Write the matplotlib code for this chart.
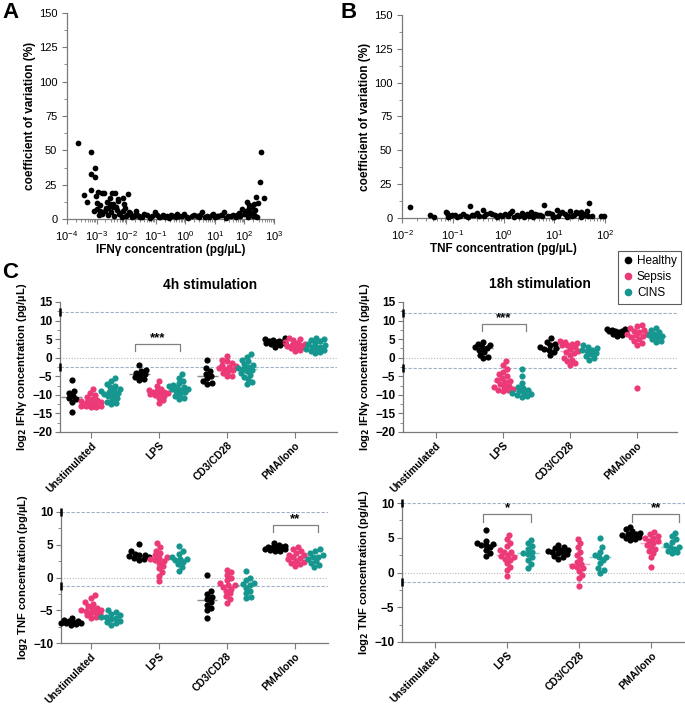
import matplotlib
matplotlib.use('Agg')
import matplotlib.pyplot as plt
import numpy as np
from matplotlib.lines import Line2D
from matplotlib.ticker import MultipleLocator, LogLocator

plt.rcParams['font.family'] = ['Liberation Sans', 'DejaVu Sans']

# ---------------- data ----------------
# panel A: log10 IFNg concentration, CV (%)
a_logx = [-3.64, -3.19, -3.07, -3.20, -3.07, -3.19, -3.44, -3.33, -3.02, -2.95, -2.82, -2.74,
          -2.48, -2.37, -2.54, -2.26, -2.98, -2.87, -2.65, -2.54, -2.67, -2.98, -2.91, -2.43,
          -2.31, -2.20, -2.07, -2.03, -2.15, -1.98, -1.86, -1.75, -1.64, -1.53, -1.30, -1.04,
          -0.96, -0.85, -0.63, -0.40, -0.29, -0.12, 0.05, 0.22, 0.39, 0.58, 0.72, 0.89, 1.06,
          1.20, 1.31, 1.46, 1.63, 1.80, 1.91, 2.02, 2.08, 2.14, 2.17, 2.25, 2.31, 2.36, 2.38,
          2.41, 2.54, 2.56, 2.66, -2.90, -2.80, -2.70, -2.60, -2.50, -2.40, -2.35, -2.25,
          -2.10, -2.00, -1.92, -1.80, -1.70, -1.58, -1.45, -1.38, -1.20, -1.12, -0.90, -0.75,
          -0.70, -0.55, -0.48, -0.33, -0.20, -0.05, 0.10, 0.30, 0.45, 0.50, 0.65, 0.80, 0.95,
          1.00, 1.12, 1.25, 1.38, 1.55, 1.70, 1.75, 1.85, 1.97, 2.05, 2.20, 2.28, 2.33, -3.10,
          -2.85, -2.62, -2.44, -2.28, -2.12, -1.95, -1.68, 2.12, 2.20, 2.27, 2.35, 2.45, 2.18]
a_cv = [55.2, 49.1, 37.4, 32.6, 30.4, 20.9, 17.5, 12.2, 16.8, 20.0, 19.2, 18.7, 19.2, 19.2,
        15.0, 14.8, 11.4, 10.2, 12.6, 10.9, 7.8, 7.0, 2.9, 9.0, 6.6, 4.1, 10.9, 7.8, 1.7, 2.9,
        4.1, 2.2, 2.9, 1.7, 2.9, 5.3, 2.9, 1.7, 2.2, 2.4, 3.4, 2.2, 1.7, 2.4, 2.2, 4.9, 2.2,
        2.9, 2.2, 2.9, 5.3, 2.2, 2.9, 4.1, 7.0, 4.1, 12.6, 10.2, 7.8, 9.0, 10.9, 6.6, 16.3,
        1.7, 27.2, 48.9, 15.6, 5.5, 4.0, 6.0, 3.0, 5.0, 2.0, 8.5, 3.5, 6.0, 2.5, 5.0, 1.5,
        3.0, 2.0, 1.2, 3.5, 1.0, 2.0, 1.5, 3.0, 1.8, 1.0, 2.8, 1.2, 1.9, 3.6, 1.0, 2.6, 1.4,
        3.2, 1.1, 1.6, 3.8, 1.2, 1.9, 3.2, 1.0, 2.5, 1.3, 3.0, 2.2, 3.8, 5.5, 4.5, 2.0, 3.0,
        6.0, 4.5, 8.0, 11.0, 13.0, 15.5, 18.5, 5.5, 1.5, 9.5, 3.5, 2.0, 11.5, 5.0]

# panel B: log10 TNF concentration, CV (%)
b_logx = [-1.84, -1.45, -1.37, -1.12, -1.09, -1.05, -0.96, -0.86, -0.74, -0.66, -0.59, -0.53,
          -0.41, -0.34, -0.27, -0.17, -0.07, 0.03, 0.16, 0.26, 0.36, 0.46, 0.55, 0.62, 0.71,
          0.80, 0.85, 0.95, 1.05, 1.11, 1.21, 1.31, 1.38, 1.47, 1.57, 1.64, 1.69, 1.74, 1.93,
          1.99, -1.14, -1.10, -1.02, -0.92, -0.80, -0.70, -0.62, -0.48, -0.38, -0.22, -0.12,
          -0.02, 0.08, 0.12, 0.21, 0.31, 0.41, 0.50, 0.58, 0.66, 0.75, 0.90, 1.00, 1.08, 1.16,
          1.25, 1.34, 1.42, 1.52, 1.60, 1.67, 1.52, 1.28, 0.98, 0.68, 0.40]
b_cv = [7.9, 2.5, 0.7, 3.7, 2.5, 1.2, 2.5, 1.7, 1.7, 8.6, 2.5, 3.7, 6.1, 3.0, 3.7, 2.0, 2.5,
        3.0, 4.9, 2.5, 3.7, 3.0, 4.4, 3.0, 2.5, 9.3, 3.7, 3.0, 5.7, 3.7, 3.0, 5.4, 2.5, 3.7,
        3.0, 5.4, 10.8, 1.7, 1.2, 1.2, 4.8, 1.0, 2.0, 1.0, 3.0, 1.0, 2.2, 1.2, 1.5, 3.2, 1.0,
        1.5, 1.2, 3.4, 1.0, 1.8, 1.2, 1.5, 1.0, 2.0, 1.2, 4.0, 1.0, 1.8, 4.5, 1.0, 1.6, 4.2,
        1.0, 2.0, 1.4, 4.8, 1.2, 1.0, 2.2, 0.8]

categories = ['Unstimulated', 'LPS', 'CD3/CD28', 'PMA/Iono']
groups = ['Healthy', 'Sepsis', 'CINS']
colors = {'Healthy': '#000000', 'Sepsis': '#ec3a78', 'CINS': '#15968f'}

# IFNg 4h
ifn4_healthy = [[-6.0, -9.0, -9.5, -10.2, -10.8, -11.2, -11.8, -14.5],
                [-2.0, -3.2, -3.6, -4.0, -4.4, -4.8, -5.2, -5.7, -6.0],
                [-0.5, -2.8, -3.5, -4.3, -4.8, -5.5, -6.2, -6.8, -7.0],
                [3.0, 3.5, 3.8, 4.0, 4.2, 4.4, 4.6, 4.8, 5.0, 5.2, 4.1, 3.9]]
ifn4_sepsis = [[-8.5, -9.5, -10, -10.5, -11, -11.3, -11.7, -12, -12.2, -12.4, -12.6, -12.8, -13,
                -13, -13.1, -13.2, -12.5, -11.8, -12.9, -13.2],
               [-6.2, -7.5, -8.3, -8.8, -9.0, -9.3, -9.6, -9.9, -10.3, -10.8, -11.5, -12.2, -9.2,
                -9.5, -10.0],
               [0.5, -0.5, -1.0, -1.5, -2.0, -2.3, -2.7, -3.0, -3.3, -3.7, -4.2, -4.8, -5.0, -2.5],
               [1.8, 2.2, 2.5, 2.8, 3.0, 3.2, 3.5, 3.8, 4.0, 4.3, 4.7, 5.0, 5.3, 3.3]]
ifn4_cins = [[-5.5, -6.2, -7, -7.5, -8, -8.5, -9, -9.3, -9.6, -10, -10.4, -10.8, -11.3, -11.8,
              -12.2, -12.5, -8.8, -9.8],
             [-4.5, -5.5, -6.2, -6.8, -7.3, -7.7, -8.0, -8.3, -8.6, -9.0, -9.3, -9.8, -10.3,
              -10.8, -11.2, -7.9, -8.4],
             [1.0, 0.3, -0.5, -1.0, -1.6, -2.0, -2.5, -3.0, -3.3, -3.7, -4.2, -4.7, -5.2, -5.8,
              -6.5, -7.0, -2.8],
             [1.3, 1.6, 1.9, 2.2, 2.5, 2.8, 3.0, 3.3, 3.6, 4.0, 4.4, 4.8, 5.1, 5.3, 2.4]]

# IFNg 18h
ifn18_healthy = [[],
                 [4.3, 3.8, 3.5, 3.0, 2.5, 2.0, 1.5, 0.8, 0.2, -0.2, 2.8],
                 [0.6, 1.5, 2.0, 2.3, 2.8, 3.3, 3.8, 4.3, 5.2, 2.6],
                 [7.8, 7.6, 7.4, 7.2, 7.0, 6.8, 6.5, 6.2, 5.8, 7.3, 7.1]]
ifn18_sepsis = [[],
                [-1.0, -2.0, -3.0, -3.8, -4.5, -5.0, -5.5, -6.0, -6.5, -7.0, -7.5, -8.0, -8.3,
                 -8.6, -9.0, -6.2, -7.8, -8.8],
                [4.5, 4.2, 3.8, 3.3, 2.8, 2.3, 1.8, 1.2, 0.6, 0.0, -0.5, -1.0, -1.5, -2.0, 4.0,
                 3.5, 1.5],
                [8.8, 8.5, 8.0, 7.5, 7.0, 6.5, 6.0, 5.5, 5.0, 4.5, 4.0, 3.5, 6.3, 5.8, 7.2, -8.2]]
ifn18_cins = [[],
              [-3.0, -4.8, -6.8, -7.8, -8.2, -8.7, -9.0, -9.4, -9.8, -10.1, -10.4, -10.5, -9.6],
              [3.3, 3.0, 2.6, 2.2, 1.8, 1.4, 1.0, 0.5, 0.0, -0.5, 2.0],
              [8.0, 7.5, 7.0, 6.5, 6.0, 5.5, 5.0, 4.5, 4.3, 5.8]]

# TNF 4h
tnf4_healthy = [[-6.2, -6.5, -6.7, -6.8, -6.9, -7.0, -7.0, -7.1, -7.2, -6.6],
                [5.1, 4.0, 3.6, 3.4, 3.3, 3.2, 3.0, 2.9, 2.7, 3.5],
                [0.4, -2.0, -2.5, -3.0, -3.3, -3.7, -4.2, -4.6, -5.0, -6.2],
                [5.3, 5.0, 4.8, 4.7, 4.6, 4.5, 4.4, 4.3, 4.2, 4.1, 4.0, 4.6]]
tnf4_sepsis = [[-2.7, -3.2, -3.7, -4.0, -4.3, -4.6, -4.8, -5.0, -5.2, -5.4, -5.6, -5.8, -6.0,
                -6.2, -4.9, -5.1],
               [5.2, 4.6, 4.1, 3.7, 3.4, 3.1, 2.8, 2.5, 2.2, 1.8, 1.4, 0.8, 0.2, -0.5, 3.0, 2.6],
               [1.2, 0.8, 0.4, 0.0, -0.4, -0.8, -1.1, -1.4, -1.7, -2.0, -2.4, -2.8, -3.3, -3.9,
                -1.2],
               [4.6, 4.3, 4.0, 3.7, 3.4, 3.1, 2.8, 2.5, 2.2, 2.0, 1.8, 3.5, 3.0, 2.4]]
tnf4_cins = [[-5.0, -5.3, -5.6, -5.8, -6.0, -6.2, -6.4, -6.6, -6.8, -7.0, -7.2, -6.1],
             [4.8, 4.0, 3.6, 3.2, 2.9, 2.6, 2.3, 2.0, 1.6, 1.0, 2.8],
             [1.0, 0.0, -0.4, -0.8, -1.2, -1.6, -2.0, -2.4, -3.0, -3.2, -1.0],
             [4.3, 4.0, 3.7, 3.4, 3.1, 2.8, 2.5, 2.2, 1.9, 1.6, 3.2]]

# TNF 18h
tnf18_healthy = [[],
                 [6.1, 4.6, 4.3, 4.1, 3.9, 3.6, 3.2, 2.8, 2.4, 4.0],
                 [4.0, 3.7, 3.5, 3.3, 3.1, 3.0, 2.8, 2.6, 2.4, 2.2, 2.0, 2.9, 3.2],
                 [6.5, 6.2, 5.9, 5.7, 5.5, 5.4, 5.3, 5.1, 5.0, 4.8, 4.7, 5.6]]
tnf18_sepsis = [[],
                [5.4, 4.8, 4.3, 3.8, 3.3, 2.9, 2.5, 2.2, 1.8, 1.3, 0.8, 0.3, -0.5, 2.4, 3.0, 2.0],
                [4.8, 4.2, 3.6, 3.0, 2.5, 2.0, 1.5, 1.0, 0.6, 0.2, -0.3, -0.8, -2.0, 1.2, 0.8],
                [5.8, 5.5, 5.2, 4.9, 4.6, 4.3, 4.0, 3.7, 3.4, 3.1, 2.8, 2.2, 0.8, 4.5, 5.0]]
tnf18_cins = [[],
              [4.7, 4.2, 3.8, 3.4, 3.0, 2.6, 2.2, 1.8, 1.2, 0.7, 2.8],
              [5.0, 3.6, 3.0, 2.5, 2.2, 1.8, 1.3, 0.6, 0.4, 0.0, 2.3],
              [5.7, 5.2, 4.8, 4.4, 4.0, 3.7, 3.4, 3.1, 2.9, 2.8, 3.6]]

# ---------------- figure ----------------
fig = plt.figure(figsize=(6.85, 7.05), dpi=100)
W, H = 685, 705


def axes_px(left, top, right, bottom):
    return fig.add_axes([left / W, 1 - bottom / H, (right - left) / W, (bottom - top) / H])


spine_col = '#7a7a7a'


def style(ax):
    for s in ['top', 'right']:
        ax.spines[s].set_visible(False)
    for s in ['left', 'bottom']:
        ax.spines[s].set_color(spine_col)
        ax.spines[s].set_linewidth(0.9)
    ax.tick_params(colors=spine_col, labelcolor='black', width=0.8)
    ax.tick_params(which='minor', colors=spine_col, width=0.6, length=2)


# panels A and B
def cv_panel(ax, lx, cv, xlim, xlabel):
    ax.scatter(10 ** np.array(lx), cv, s=17, color='black', lw=0, zorder=3, clip_on=False)
    ax.set_xscale('log')
    ax.set_xlim(*xlim)
    ax.xaxis.set_major_locator(LogLocator(base=10, numticks=20))
    ax.xaxis.set_minor_locator(LogLocator(base=10, subs=np.arange(2, 10), numticks=20))
    ax.set_ylim(0, 150)
    ax.yaxis.set_major_locator(MultipleLocator(25))
    ax.yaxis.set_minor_locator(MultipleLocator(12.5))
    style(ax)
    ax.tick_params(labelsize=8, length=3.5)
    ax.set_ylabel('coefficient of variation (%)', fontsize=8.5, fontweight='bold', labelpad=2)
    ax.set_xlabel(xlabel, fontsize=8.5, fontweight='bold', labelpad=1)


axA = axes_px(67, 13, 274, 219)
cv_panel(axA, a_logx, a_cv, (1e-4, 1e3), 'IFNγ concentration (pg/µL)')
axB = axes_px(402, 15, 605, 218)
cv_panel(axB, b_logx, b_cv, (1e-2, 1e2), 'TNF concentration (pg/µL)')


def swarm(ax, xc, vals, color, d=4.5, cap=10.0):
    if len(vals) == 0:
        return
    vals = np.asarray(vals, float)
    pts = ax.transData.transform(np.column_stack([np.full(len(vals), xc), vals]))
    ys = pts[:, 1]
    x0 = ax.transData.transform([[xc, 0]])[0, 0]
    x1 = ax.transData.transform([[xc + 1, 0]])[0, 0]
    ppu = x1 - x0
    offs = np.zeros(len(vals))
    placed = []
    cands = [0.0]
    k = 1
    while k * 1.0 <= cap:
        cands += [k * 1.0, -k * 1.0]
        k += 1
    for i in np.argsort(ys):
        best, best_d = 0.0, -1
        for c in cands:
            md = min([np.hypot(c - px, ys[i] - py) for px, py in placed] + [99])
            if md >= d:
                best = c
                break
            if md > best_d:
                best, best_d = c, md
        offs[i] = best
        placed.append((best, ys[i]))
    ax.scatter(xc + offs / ppu, vals, s=20, color=color, lw=0, zorder=3, clip_on=False)
    med = np.median(vals)
    ax.hlines(med, xc - 0.15, xc + 0.15, color=color, lw=1.0, alpha=0.45, zorder=4)


def strip_panel(ax, data, ylim, ymaj, ymin, xlim, dashed, ylabel, brackets):
    ax.set_xlim(*xlim)
    ax.set_ylim(*ylim)
    style(ax)
    ax.yaxis.set_major_locator(MultipleLocator(ymaj))
    ax.yaxis.set_minor_locator(MultipleLocator(ymin))
    ax.set_xticks(range(len(categories)))
    ax.set_xticklabels(categories, rotation=45, ha='right', rotation_mode='anchor',
                       fontsize=7.5, fontweight='bold')
    ax.tick_params(axis='x', length=4, pad=2)
    ax.tick_params(axis='y', labelsize=8.5, length=3.5, pad=2)
    for lab in ax.get_yticklabels():
        lab.set_fontweight('bold')
    ax.set_ylabel(ylabel, fontsize=8, fontweight='bold', labelpad=2)
    for yv in dashed:
        ax.axhline(yv, color='#9fb0c8', lw=0.8, ls=(0, (3, 1.5)), zorder=1)
        ax.plot([0], [yv], marker='|', color='black', ms=6, mew=1.8,
                transform=ax.get_yaxis_transform(), clip_on=False, zorder=5)
    ax.axhline(0, color='#b8b8b8', lw=0.8, ls=(0, (1, 1.5)), zorder=1)
    offsets = [-0.29, 0.0, 0.29]
    for gi, g in enumerate(groups):
        for ci in range(len(categories)):
            swarm(ax, ci + offsets[gi], data[gi][ci], colors[g])
    for (xa, xb, ytop, ylow, txt) in brackets:
        ax.plot([xa, xa, xb, xb], [ylow, ytop, ytop, ylow], color='#808080', lw=0.9)
        ax.text((xa + xb) / 2, ytop, txt, ha='center', va='bottom', fontsize=9.5,
                fontweight='bold')


ifn_label = r'log$_\mathbf{2}$ IFNγ concentration (pg/µL)'
tnf_label = r'log$_\mathbf{2}$ TNF concentration (pg/µL)'

ax1 = axes_px(60, 302, 337, 432)
strip_panel(ax1, [ifn4_healthy, ifn4_sepsis, ifn4_cins], (-20, 15), 5, 2.5, (-0.46, 3.62),
            [12.2, -2.6], ifn_label, [(0.65, 1.31, 3.7, 1.8, '***')])
ax2 = axes_px(403, 302, 677, 432)
strip_panel(ax2, [ifn18_healthy, ifn18_sepsis, ifn18_cins], (-20, 15), 5, 2.5, (-0.49, 3.6),
            [12.0, -2.8], ifn_label, [(0.69, 1.34, 9.1, 7.2, '***')])
ax3 = axes_px(61, 512, 328, 643)
strip_panel(ax3, [tnf4_healthy, tnf4_sepsis, tnf4_cins], (-10, 10), 5, 2.5, (-0.44, 3.49),
            [10.0, -1.3], tnf_label, [(2.68, 3.34, 8.0, 6.9, '**')])
ax4 = axes_px(402, 503, 685, 642)
strip_panel(ax4, [tnf18_healthy, tnf18_sepsis, tnf18_cins], (-10, 10), 5, 2.5, (-0.46, 3.47),
            [10.0, -1.37], tnf_label,
            [(0.67, 1.33, 8.4, 7.3, '*'), (2.74, 3.39, 8.4, 7.3, '**')])

fig.text(210 / W, 1 - 285 / H, '4h stimulation', ha='center', va='center', fontsize=10,
         fontweight='bold')
fig.text(540 / W, 1 - 284 / H, '18h stimulation', ha='center', va='center', fontsize=10,
         fontweight='bold')

for lab, x, y in [('A', 2, 13), ('B', 341, 13), ('C', 2, 272)]:
    fig.text(x / W, 1 - y / H, lab, ha='left', va='center', fontsize=16, fontweight='heavy')

handles = [Line2D([], [], ls='', marker='o', ms=4.5, color=colors[g], label=g) for g in groups]
leg = fig.legend(handles=handles, loc='upper right', bbox_to_anchor=(681 / W, 1 - 251 / H),
                 fontsize=8.5, frameon=True, fancybox=False, handletextpad=0.3,
                 borderpad=0.35, labelspacing=0.35, handlelength=1.0, borderaxespad=0)
leg.get_frame().set_edgecolor('#333333')
leg.get_frame().set_linewidth(0.8)

fig.savefig('out.png', dpi=100)
